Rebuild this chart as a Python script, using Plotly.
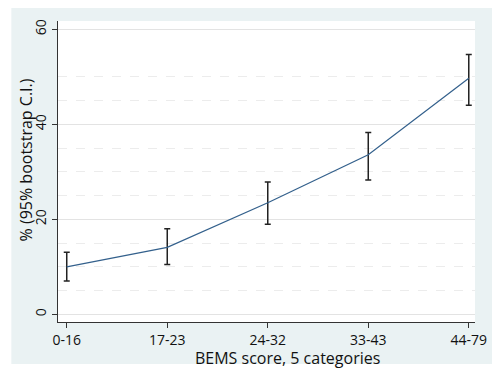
import plotly.graph_objects as go

categories = ["0-16", "17-23", "24-32", "33-43", "44-79"]
pct = [10.0, 14.1, 23.5, 33.6, 49.7]
ci_upper = [13.05, 18.0, 27.85, 38.3, 54.7]
ci_lower = [7.0, 10.5, 18.95, 28.3, 44.0]

err_plus = [u - v for u, v in zip(ci_upper, pct)]
err_minus = [v - l for v, l in zip(pct, ci_lower)]

x_idx = list(range(len(categories)))

W, H = 492, 368
L, R, T, B = 58, 5, 21, 46
PW, PH = W - L - R, H - T - B

fig = go.Figure()
fig.add_trace(go.Scatter(
    x=x_idx, y=pct, mode="lines",
    line=dict(color="#33608c", width=1.2),
    error_y=dict(type="data", symmetric=False, array=err_plus, arrayminus=err_minus,
                 color="#222222", thickness=1.5, width=3),
    showlegend=False, hoverinfo="skip",
))

font = "Open Sans"
fig.update_layout(
    width=W, height=H,
    margin=dict(l=L, r=R, t=T, b=B, pad=0),
    paper_bgcolor="#EAF2F3",
    plot_bgcolor="white",
    font=dict(family=font, size=14, color="#111111"),
    xaxis=dict(
        range=[-0.087, 4.062],
        tickmode="array", tickvals=x_idx, ticktext=categories,
        showgrid=False, zeroline=False,
        showline=True, linecolor="#333333", linewidth=1,
        ticks="outside", ticklen=5, tickcolor="#333333",
        tickfont=dict(size=14),
        ticklabeloverflow="allow",
    ),
    yaxis=dict(
        range=[-1.62, 61.75],
        tickmode="array", tickvals=[0, 20, 40, 60],
        tickangle=-90,
        showgrid=True, gridcolor="#e3e3e3", gridwidth=1,
        zeroline=False,
        showline=True, linecolor="#333333", linewidth=1,
        ticks="outside", ticklen=5, tickcolor="#333333",
        tickfont=dict(size=14),
        minor=dict(tickvals=[5, 10, 15, 25, 30, 35, 45, 50], showgrid=True,
                   gridcolor="#ececec", griddash="dash", gridwidth=1, ticks=""),
    ),
    annotations=[
        dict(text="BEMS score, 5 categories", xref="paper", yref="paper",
             x=(294 - L) / PW, y=-(358 - (H - B)) / PH, xanchor="center", yanchor="middle",
             showarrow=False, font=dict(size=16)),
        dict(text="% (95% bootstrap C.I.)", xref="paper", yref="paper",
             x=(25 - L) / PW, y=(H - B - 159.5) / PH, xanchor="center", yanchor="middle",
             textangle=-90, showarrow=False, font=dict(size=16)),
    ],
    shapes=[
        dict(type="rect", xref="paper", yref="paper", x0=-L / PW - 0.1, x1=(10 - L) / PW,
             y0=-2, y1=3, fillcolor="white", line=dict(width=0), layer="below"),
        dict(type="rect", xref="paper", yref="paper", x0=-1, x1=2,
             y0=1 + (T - 8) / PH, y1=3, fillcolor="white", line=dict(width=0), layer="below"),
        dict(type="rect", xref="paper", yref="paper", x0=-1, x1=2,
             y0=-2, y1=-(364 - (H - B)) / PH, fillcolor="white", line=dict(width=0), layer="below"),
    ],
)

fig.write_html("out.html")
